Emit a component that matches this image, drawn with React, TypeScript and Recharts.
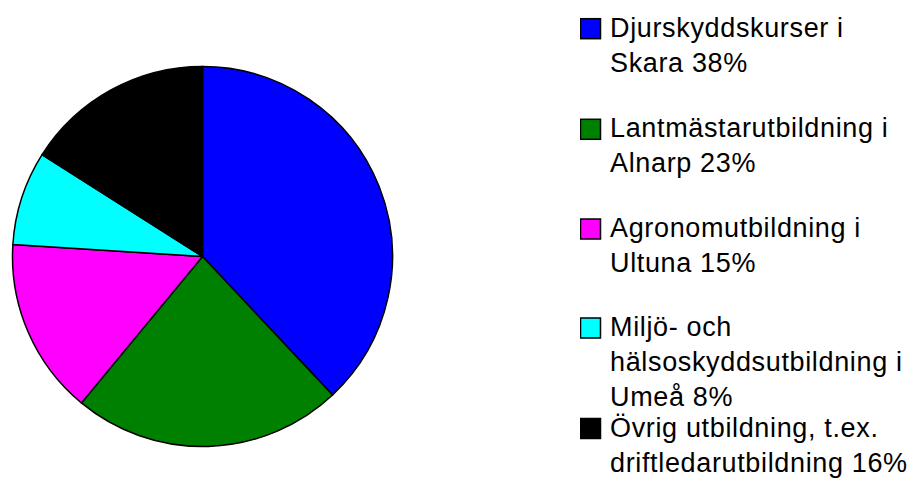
import { PieChart, Pie, Cell, Legend } from "recharts";

const categories = [
  "Djurskyddskurser i Skara",
  "Lantmästarutbildning i Alnarp",
  "Agronomutbildning i Ultuna",
  "Miljö- och hälsoskyddsutbildning i Umeå",
  "Övrig utbildning, t.ex. driftledarutbildning",
];
const values = [38, 23, 15, 8, 16];
const colors = ["#0000FF", "#008000", "#FF00FF", "#00FFFF", "#000000"];
// wrapped legend lines, as in the original
const legendLines = [
  ["Djurskyddskurser i", "Skara 38%"],
  ["Lantmästarutbildning i", "Alnarp 23%"],
  ["Agronomutbildning i", "Ultuna 15%"],
  ["Miljö- och", "hälsoskyddsutbildning i", "Umeå 8%"],
  ["Övrig utbildning, t.ex.", "driftledarutbildning 16%"],
];

const data = categories.map((name, i) => ({ name, value: values[i] }));

const itemBaselines = [36.7, 137.3, 237, 336, 436.5];
const lineStep = 35;

function renderLegend() {
  return (
    <svg width={334} height={478} style={{ display: "block" }}>
      {legendLines.map((lines, i) => {
        const base = itemBaselines[i];
        return (
          <g key={categories[i]}>
            <rect x={0.5} y={base - 18} width={20} height={20} fill={colors[i]} stroke="#000" strokeWidth={1.5} />
            <text
              x={30}
              y={base}
              fontFamily="'Liberation Sans', Arial, sans-serif"
              fontSize={27}
              letterSpacing={0.65}
              fill="#000"
            >
              {lines.map((line, j) => (
                <tspan key={j} x={30} y={base + j * lineStep}>
                  {line}
                </tspan>
              ))}
            </text>
          </g>
        );
      })}
    </svg>
  );
}

export default function App() {
  return (
    <div style={{ position: "absolute", left: 0, top: 0, width: 914, height: 478, background: "#fff" }}>
      <PieChart width={914} height={478} margin={{ top: 0, right: 0, bottom: 0, left: 0 }}>
        <Pie
          data={data}
          dataKey="value"
          nameKey="name"
          cx={202.5}
          cy={256.5}
          outerRadius={190}
          startAngle={90}
          endAngle={-270}
          stroke="#000"
          strokeWidth={1.5}
          isAnimationActive={false}
        >
          {data.map((d, i) => (
            <Cell key={d.name} fill={colors[i]} />
          ))}
        </Pie>
        <Legend
          content={renderLegend}
          layout="vertical"
          align="right"
          verticalAlign="top"
          wrapperStyle={{ position: "absolute", left: 580, top: 0, width: 334, height: 478 }}
        />
      </PieChart>
    </div>
  );
}
